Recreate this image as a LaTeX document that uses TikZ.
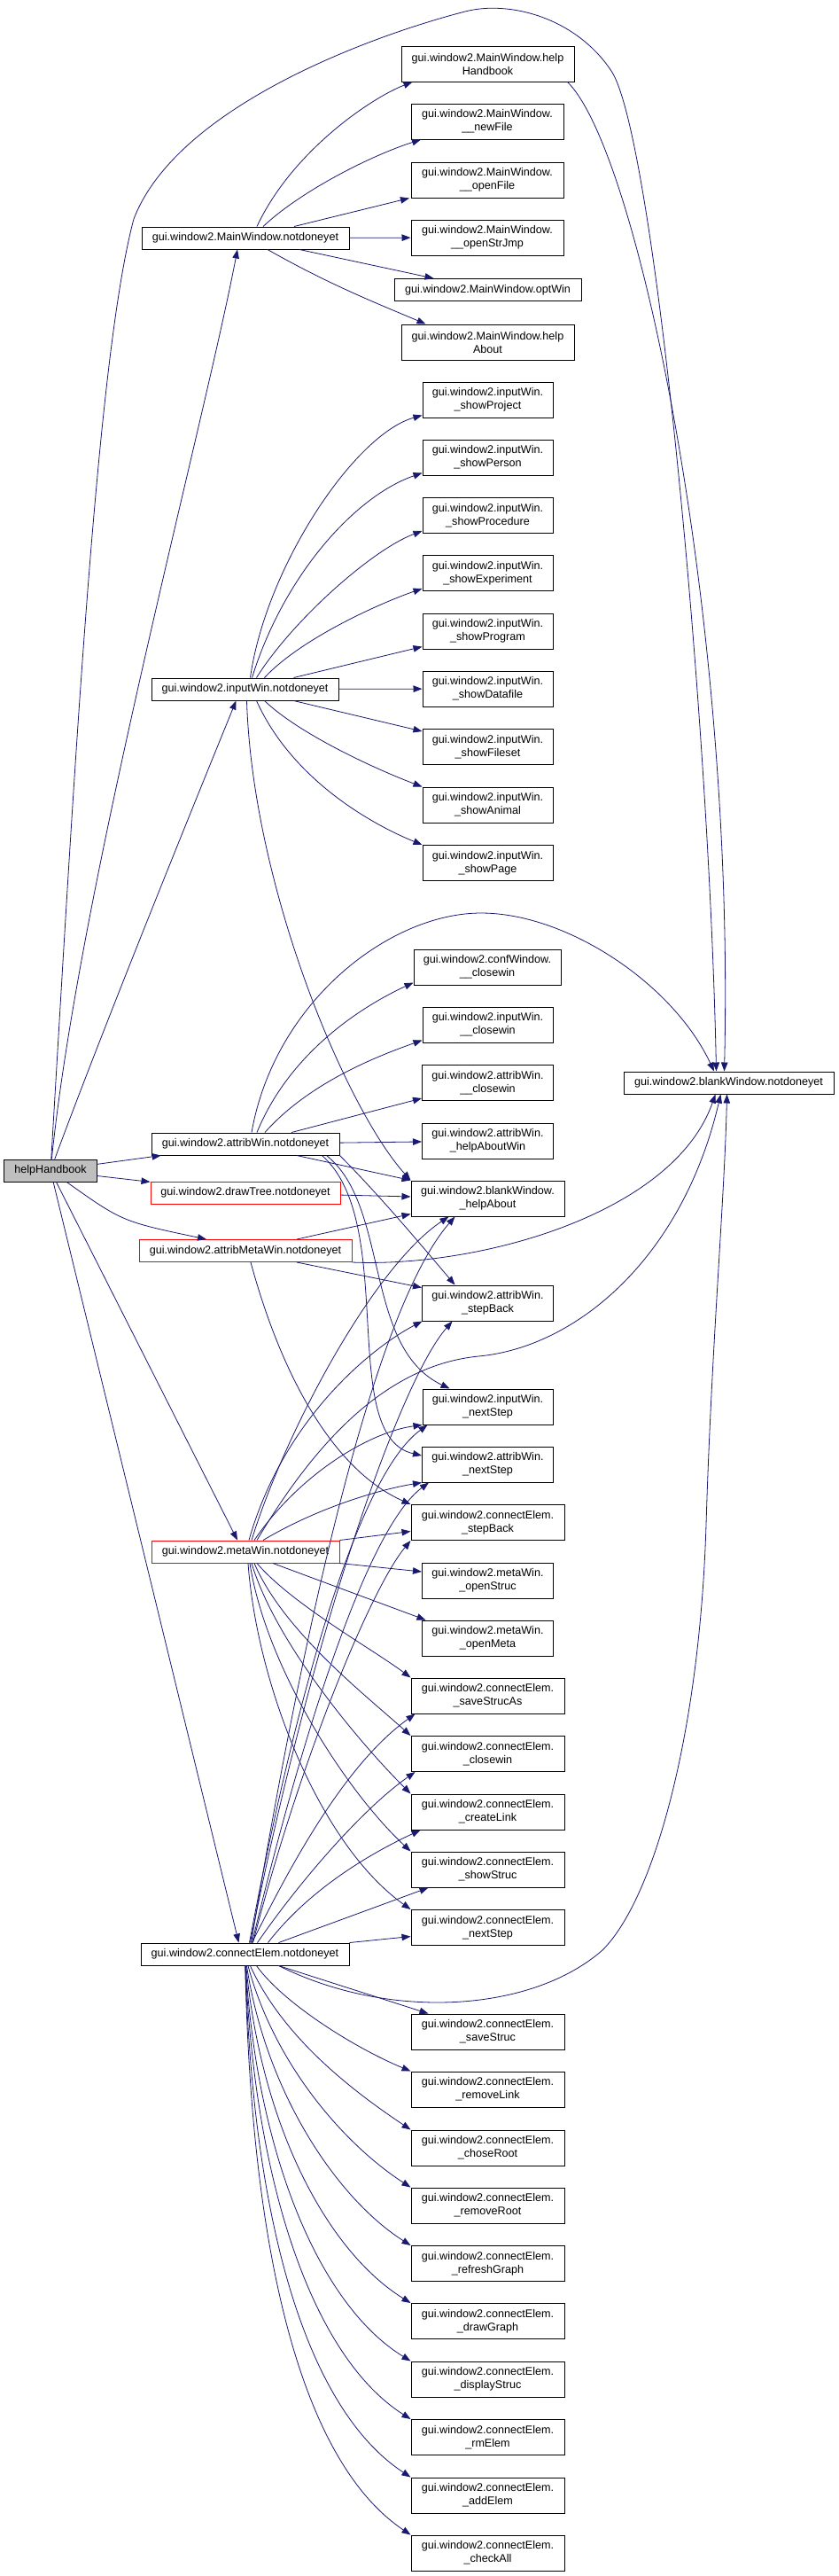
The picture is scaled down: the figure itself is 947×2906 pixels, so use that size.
\documentclass[tikz,border=0pt]{standalone}
\usepackage{fontspec}
\setmainfont{Liberation Sans}
\usetikzlibrary{arrows.meta}
\definecolor{edgeblue}{HTML}{191970}
\definecolor{rootgray}{HTML}{BFBFBF}
\newcommand\fnfont{\fontsize{12.6bp}{15bp}\selectfont}
\tikzset{
  fn/.style={draw=black, line width=1bp, fill=white, font=\fnfont, align=center,
    inner xsep=2bp, inner ysep=0pt, minimum height=25bp},
  fntwo/.style={fn, minimum height=40bp},
  fnred/.style={fn, draw=red},
  fnroot/.style={fn, fill=rootgray},
  calls/.style={draw=edgeblue, line width=0.8bp, -{Triangle[length=10bp,width=7.5bp]}}
}
\begin{document}
\begin{tikzpicture}[x=1bp,y=-1bp]
\useasboundingbox (0,0) rectangle (947,2906);

% callers
\node[fnroot, minimum width=104bp] (root) at (57,1320.5) {helpHandbook};
\node[fn, minimum width=234bp] (mw) at (277,268.5) {gui.window2.MainWindow.notdoneyet};
\node[fn, minimum width=211bp] (iw) at (276.5,777.5) {gui.window2.inputWin.notdoneyet};
\node[fn, minimum width=212bp] (aw) at (277,1290.5) {gui.window2.attribWin.notdoneyet};
\node[fnred, minimum width=214bp] (dt) at (277,1345.5) {gui.window2.drawTree.notdoneyet};
\node[fnred, minimum width=240bp] (amw) at (277,1411) {gui.window2.attribMetaWin.notdoneyet};
\node[fnred, minimum width=212bp] (mtw) at (277,1750.5) {gui.window2.metaWin.notdoneyet};
\node[fn, minimum width=235bp] (ce) at (276.5,2204.5) {gui.window2.connectElem.notdoneyet};
\node[fn, minimum width=237bp] (bwNot) at (822.5,1221.5) {gui.window2.blankWindow.notdoneyet};

% MainWindow
\node[fntwo, minimum width=195bp] (mwHand) at (550.5,72) {gui.window2.MainWindow.help\\Handbook};
\node[fntwo, minimum width=172bp] (mwNew) at (550,137) {gui.window2.MainWindow.\\\_\_newFile};
\node[fntwo, minimum width=172bp] (mwOpen) at (550,203) {gui.window2.MainWindow.\\\_\_openFile};
\node[fntwo, minimum width=172bp] (mwJump) at (550,268) {gui.window2.MainWindow.\\\_\_openStrJmp};
\node[fn, minimum width=211bp] (mwOpt) at (550.5,327) {gui.window2.MainWindow.optWin};
\node[fntwo, minimum width=195bp] (mwAbout) at (550.5,386) {gui.window2.MainWindow.help\\About};

% inputWin
\node[fntwo, minimum width=147bp] (iwProject) at (550.5,451) {gui.window2.inputWin.\\\_showProject};
\node[fntwo, minimum width=147bp] (iwPerson) at (550.5,516) {gui.window2.inputWin.\\\_showPerson};
\node[fntwo, minimum width=147bp] (iwProc) at (550.5,581.5) {gui.window2.inputWin.\\\_showProcedure};
\node[fntwo, minimum width=147bp] (iwExp) at (550.5,646.5) {gui.window2.inputWin.\\\_showExperiment};
\node[fntwo, minimum width=147bp] (iwProg) at (550.5,712) {gui.window2.inputWin.\\\_showProgram};
\node[fntwo, minimum width=147bp] (iwData) at (550.5,777) {gui.window2.inputWin.\\\_showDatafile};
\node[fntwo, minimum width=147bp] (iwFiles) at (550.5,842.5) {gui.window2.inputWin.\\\_showFileset};
\node[fntwo, minimum width=147bp] (iwAnimal) at (550.5,908) {gui.window2.inputWin.\\\_showAnimal};
\node[fntwo, minimum width=147bp] (iwPage) at (550.5,973.5) {gui.window2.inputWin.\\\_showPage};

% attribWin and friends
\node[fntwo, minimum width=166bp] (cwClose) at (550,1091) {gui.window2.confWindow.\\\_\_closewin};
\node[fntwo, minimum width=147bp] (iwClose) at (550.5,1156) {gui.window2.inputWin.\\\_\_closewin};
\node[fntwo, minimum width=148bp] (awClose) at (550.5,1221.5) {gui.window2.attribWin.\\\_\_closewin};
\node[fntwo, minimum width=148bp] (awHelp) at (550.5,1287) {gui.window2.attribWin.\\\_helpAboutWin};
\node[fntwo, minimum width=173bp] (bwHelp) at (550.5,1352) {gui.window2.blankWindow.\\\_helpAbout};
\node[fntwo, minimum width=148bp] (awStep) at (550.5,1470) {gui.window2.attribWin.\\\_stepBack};
\node[fntwo, minimum width=147bp] (iwNext) at (550.5,1587) {gui.window2.inputWin.\\\_nextStep};
\node[fntwo, minimum width=148bp] (awNext) at (550.5,1652) {gui.window2.attribWin.\\\_nextStep};
\node[fntwo, minimum width=173bp] (ceStep) at (550.5,1717.5) {gui.window2.connectElem.\\\_stepBack};
\node[fntwo, minimum width=148bp] (mtStruc) at (550.5,1783) {gui.window2.metaWin.\\\_openStruc};
\node[fntwo, minimum width=148bp] (mtMeta) at (550.5,1848) {gui.window2.metaWin.\\\_openMeta};

% connectElem
\node[fntwo, minimum width=173bp] (ceSaveAs) at (550.5,1913) {gui.window2.connectElem.\\\_saveStrucAs};
\node[fntwo, minimum width=173bp] (ceClose) at (550.5,1978.5) {gui.window2.connectElem.\\\_closewin};
\node[fntwo, minimum width=173bp] (ceLink) at (550.5,2044) {gui.window2.connectElem.\\\_createLink};
\node[fntwo, minimum width=173bp] (ceShow) at (550.5,2109) {gui.window2.connectElem.\\\_showStruc};
\node[fntwo, minimum width=173bp] (ceNext) at (550.5,2174.5) {gui.window2.connectElem.\\\_nextStep};
\node[fntwo, minimum width=173bp] (ceSave) at (550.5,2292) {gui.window2.connectElem.\\\_saveStruc};
\node[fntwo, minimum width=173bp] (ceRmLink) at (550.5,2357) {gui.window2.connectElem.\\\_removeLink};
\node[fntwo, minimum width=173bp] (ceChose) at (550.5,2423) {gui.window2.connectElem.\\\_choseRoot};
\node[fntwo, minimum width=173bp] (ceRmRoot) at (550.5,2488) {gui.window2.connectElem.\\\_removeRoot};
\node[fntwo, minimum width=173bp] (ceRefresh) at (550.5,2553.5) {gui.window2.connectElem.\\\_refreshGraph};
\node[fntwo, minimum width=173bp] (ceDraw) at (550.5,2618.5) {gui.window2.connectElem.\\\_drawGraph};
\node[fntwo, minimum width=173bp] (ceDisplay) at (550.5,2684) {gui.window2.connectElem.\\\_displayStruc};
\node[fntwo, minimum width=173bp] (ceRm) at (550.5,2749.5) {gui.window2.connectElem.\\\_rmElem};
\node[fntwo, minimum width=173bp] (ceAdd) at (550.5,2815) {gui.window2.connectElem.\\\_addElem};
\node[fntwo, minimum width=173bp] (ceCheck) at (550.5,2880) {gui.window2.connectElem.\\\_checkAll};

% helpHandbook
\draw[calls] (root) .. controls (90,1000) and (230,480) .. ([xshift=-9bp]mw.south);
\draw[calls] (root) .. controls (120,1150) and (230,880) .. ([xshift=-10bp]iw.south);
\draw[calls] (root) .. controls (85,850) and (110,400) .. (151,247) .. controls (200,120) and (420,40) .. (525,13)
  .. controls (575,0) and (650,20) .. (690,80) .. controls (738,152) and (800,800) .. ([xshift=-14bp]bwNot.north);
\draw[calls] (root) -- (aw);
\draw[calls] (root) -- (dt);
\draw[calls] (root) .. controls (138,1378) .. ([xshift=-44bp]amw.north);
\draw[calls] (root) -- ([xshift=-9bp]mtw.north);
\draw[calls] (root) -- ([xshift=-7bp]ce.north);

% MainWindow.notdoneyet
\draw[calls] ([xshift=13bp]mw.north) .. controls (330,170) and (420,110) .. ([xshift=-85bp]mwHand.south);
\draw[calls] ([xshift=20bp]mw.north) .. controls (340,215) and (420,175) .. ([xshift=-75bp]mwNew.south);
\draw[calls] ([xshift=55bp]mw.north) -- ([xshift=-88bp]mwOpen.south);
\draw[calls] (mw) -- (mwJump);
\draw[calls] ([xshift=61bp]mw.south) -- ([xshift=-61bp]mwOpt.north);
\draw[calls] ([xshift=25bp]mw.south) .. controls (370,320) and (420,340) .. ([xshift=-70bp]mwAbout.north);
\draw[calls] ([xshift=90bp]mwHand.south) .. controls (720,170) and (830,700) .. ([xshift=-5bp]bwNot.north);

% inputWin.notdoneyet
\draw[calls] ([xshift=6bp]iw.north) .. controls (300,640) and (400,490) .. ([yshift=3bp]iwProject.south west);
\draw[calls] ([xshift=8bp]iw.north) .. controls (320,650) and (400,560) .. ([yshift=3bp]iwPerson.south west);
\draw[calls] ([xshift=13bp]iw.north) .. controls (330,700) and (420,620) .. ([yshift=3bp]iwProc.south west);
\draw[calls] ([xshift=22bp]iw.north) .. controls (340,720) and (430,680) .. ([yshift=3bp]iwExp.south west);
\draw[calls] ([xshift=55bp]iw.north) -- ([yshift=3bp]iwProg.south west);
\draw[calls] (iw) -- (iwData);
\draw[calls] ([xshift=55bp]iw.south) -- ([yshift=-3bp]iwFiles.north west);
\draw[calls] ([xshift=22bp]iw.south) .. controls (340,830) and (430,870) .. (iwAnimal.north west);
\draw[calls] ([xshift=13bp]iw.south) .. controls (330,880) and (420,930) .. (iwPage.north west);
\draw[calls] ([xshift=2bp]iw.south) .. controls (285,1000) and (390,1250) .. (bwHelp.north west);

% attribWin.notdoneyet
\draw[calls] ([xshift=7bp]aw.north) .. controls (310,1130) and (440,1030) .. (543,1030)
  .. controls (640,1030) and (760,1110) .. ([xshift=-16.5bp]bwNot.north);
\draw[calls] ([xshift=13bp]aw.north) .. controls (330,1180) and (420,1130) .. ([yshift=3bp]cwClose.south west);
\draw[calls] ([xshift=22bp]aw.north) .. controls (350,1220) and (430,1190) .. ([yshift=3bp]iwClose.south west);
\draw[calls] ([xshift=52bp]aw.north) -- ([yshift=3bp]awClose.south west);
\draw[calls] (aw) -- (awHelp);
\draw[calls] ([xshift=58bp]aw.south) -- (bwHelp.north west);
\draw[calls] (aw.south east) .. controls (430,1350) and (480,1410) .. ([xshift=-37bp]awStep.north);
\draw[calls] ([xshift=-15bp]aw.south east) .. controls (440,1360) and (410,1520) .. ([xshift=-43bp]iwNext.north);
\draw[calls] ([xshift=-20bp]aw.south east) .. controls (450,1380) and (380,1620) .. ([yshift=10bp]awNext.west);

% drawTree.notdoneyet
\draw[calls] (dt) -- (bwHelp);

% attribMetaWin.notdoneyet
\draw[calls] ([xshift=58bp]amw.north) -- ([yshift=3bp]bwHelp.south west);
\draw[calls] (amw.south east) .. controls (540,1430) and (760,1370) .. ([xshift=-15bp]bwNot.south);
\draw[calls] ([xshift=58bp]amw.south) -- ([yshift=-3bp]awStep.north west);
\draw[calls] ([xshift=6bp]amw.south) .. controls (320,1560) and (380,1660) .. (ceStep.north west);

% metaWin.notdoneyet
\draw[calls] ([xshift=7bp]mtw.north) .. controls (320,1620) and (420,1430) .. ([xshift=-44bp]bwHelp.south);
\draw[calls] ([xshift=4bp]mtw.north) .. controls (320,1600) and (420,1520) .. ([xshift=-74bp]awStep.south);
\draw[calls] ([xshift=10bp]mtw.north) .. controls (340,1660) and (420,1615) .. (iwNext.south west);
\draw[calls] ([xshift=20bp]mtw.north) .. controls (360,1700) and (430,1680) .. (awNext.south west);
\draw[calls] ([xshift=13bp]mtw.north) .. controls (360,1620) and (440,1540) .. (540,1530)
  .. controls (650,1520) and (770,1420) .. ([xshift=-9bp]bwNot.south);
\draw[calls] (mtw.north east) -- ([yshift=-10bp]ceStep.west);
\draw[calls] (mtw.south east) -- ([yshift=10bp]mtStruc.west);
\draw[calls] ([xshift=31bp]mtw.south) -- ([xshift=-70bp]mtMeta.north);
\draw[calls] ([xshift=13bp]mtw.south) .. controls (330,1810) and (420,1860) .. (ceSaveAs.north west);
\draw[calls] ([xshift=10bp]mtw.south) .. controls (320,1840) and (410,1910) .. (ceClose.north west);
\draw[calls] ([xshift=7bp]mtw.south) .. controls (310,1850) and (400,1960) .. (ceLink.north west);
\draw[calls] ([xshift=5bp]mtw.south) .. controls (300,1880) and (390,2020) .. (ceShow.north west);
\draw[calls] ([xshift=3bp]mtw.south) .. controls (290,1900) and (360,2080) .. (ceNext.north west);

% connectElem.notdoneyet
\draw[calls] ([xshift=7bp]ce.north) .. controls (340,1850) and (420,1480) .. ([xshift=-37bp]bwHelp.south);
\draw[calls] ([xshift=6bp]ce.north) .. controls (350,1850) and (450,1560) .. ([xshift=-40bp]awStep.south);
\draw[calls] ([xshift=5bp]ce.north) .. controls (340,1880) and (410,1660) .. ([xshift=6bp]iwNext.south west);
\draw[calls] ([xshift=8bp]ce.north) .. controls (350,1920) and (420,1720) .. ([xshift=8bp]awNext.south west);
\draw[calls] ([xshift=9bp]ce.north) .. controls (340,1980) and (420,1790) .. (ceStep.south west);
\draw[calls] ([xshift=8bp]ce.north) .. controls (330,2100) and (390,1990) .. ([xshift=-82bp]ceSaveAs.south);
\draw[calls] ([xshift=14bp]ce.north) .. controls (340,2120) and (410,2040) .. ([xshift=-82bp]ceClose.south);
\draw[calls] ([xshift=26bp]ce.north) .. controls (350,2130) and (420,2090) .. ([xshift=-76bp]ceLink.south);
\draw[calls] ([xshift=38bp]ce.north) -- ([xshift=-67bp]ceShow.south);
\draw[calls] (ce.north east) -- ([yshift=-10bp]ceNext.west);
\draw[calls] ([xshift=38bp]ce.south) .. controls (440,2280) and (600,2270) .. (680,2200)
  .. controls (740,2140) and (790,1950) .. (797,1720) .. controls (803,1520) and (818,1350) .. ([xshift=-2bp]bwNot.south);
\draw[calls] ([xshift=38bp]ce.south) -- ([xshift=-67bp]ceSave.north);
\draw[calls] ([xshift=13bp]ce.south) .. controls (320,2260) and (400,2310) .. (ceRmLink.north west);
\draw[calls] (ce) .. controls (320,2300) and (400,2360) .. (ceChose.north west);
\draw[calls] (ce) .. controls (310,2330) and (390,2420) .. (ceRmRoot.north west);
\draw[calls] (ce) .. controls (300,2360) and (380,2480) .. (ceRefresh.north west);
\draw[calls] (ce) .. controls (295,2400) and (370,2540) .. (ceDraw.north west);
\draw[calls] (ce) .. controls (290,2430) and (360,2600) .. (ceDisplay.north west);
\draw[calls] (ce) .. controls (288,2470) and (355,2660) .. (ceRm.north west);
\draw[calls] (ce) .. controls (286,2520) and (350,2720) .. (ceAdd.north west);
\draw[calls] (ce) .. controls (284,2560) and (345,2780) .. (ceCheck.north west);
\end{tikzpicture}
\end{document}
